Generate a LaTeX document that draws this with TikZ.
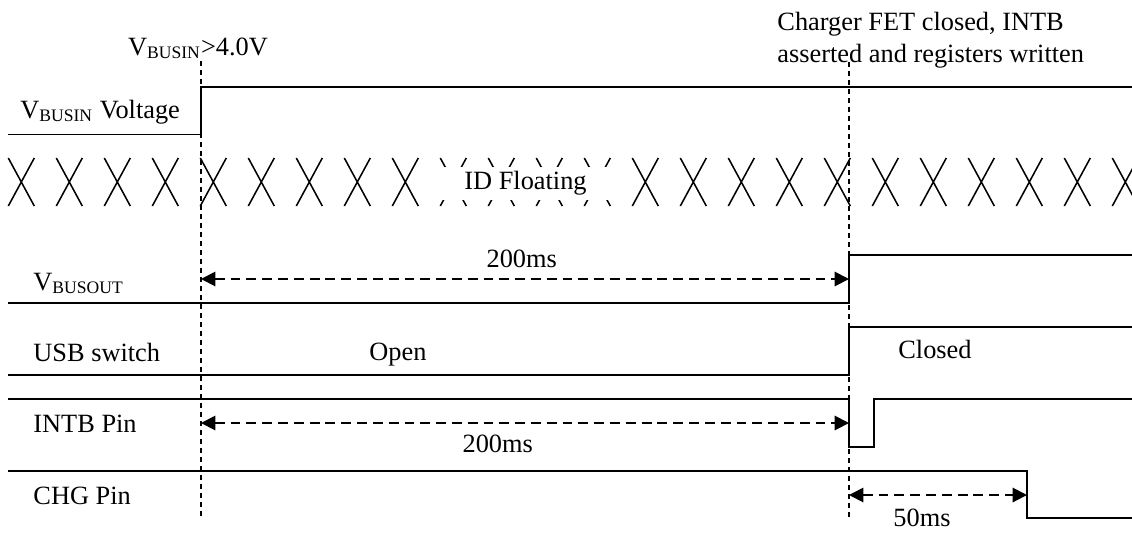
\documentclass[tikz,border=0pt]{standalone}
\usepackage{fontspec}
\setmainfont{Liberation Serif}
\usetikzlibrary{arrows.meta}

\begin{document}
\begin{tikzpicture}[x=0.016cm, y=-0.016cm, >={Triangle[length=6.5pt, width=6.5pt]},
  font=\fontsize{12}{14.5}\selectfont,
  wave/.style={line width=0.9pt},
  xline/.style={line width=0.7pt},
  marker/.style={line width=0.8pt, dash pattern=on 2.3pt off 1.8pt},
  timespan/.style={<->, line width=0.9pt, dash pattern=on 4.5pt off 2.7pt},
  signame/.style={anchor=base west, inner sep=0pt},
  note/.style={anchor=base, inner sep=0pt}]

  \useasboundingbox (0,0) rectangle (1132,533);

  \def\tA{201}   % VBUSIN above threshold
  \def\tB{849}   % charger FET closed
  \def\tC{1027}  % CHG pin asserted
  \def\xend{1132}
  \def\xpitch{48}

  % Event markers
  \coordinate (a top) at (\tA,61);
  \coordinate (a bot) at (\tA,517);
  \coordinate (b top) at (\tB,62);
  \coordinate (b bot) at (\tB,517);
  \draw[marker] (a top) -- (a bot);
  \draw[marker] (b top) -- (b bot);
  \node[note] (vth) at (198,55) {V\textsubscript{BUSIN}>4.0V};
  \node[anchor=north west, align=left, inner sep=0pt] (fetnote) at (777,12)
    {Charger FET closed, INTB\\asserted and registers written};

  % Signal names
  \node[signame] (n busin)  at (20,118) {V\textsubscript{BUSIN} Voltage};
  \node[signame] (n busout) at (33,290) {V\textsubscript{BUSOUT}};
  \node[signame] (n usb)    at (33,361) {USB switch};
  \node[signame] (n intb)   at (33,432) {INTB Pin};
  \node[signame] (n chg)    at (33,504) {CHG Pin};

  % VBUSIN voltage
  \draw[wave] (8,134.5) -- (\tA,134.5) -- (\tA,87) -- (\xend,87);

  % ID pin: unknown state
  \foreach \k in {0,...,23} {
    \draw[xline] ({21.3+\xpitch*\k-13},158) -- ++(26,48)
                 ({21.3+\xpitch*\k+13},158) -- ++(-26,48);
  }
  \node[fill=white, minimum width=2.83cm, minimum height=0.53cm, inner sep=0pt] (idfloat)
    at (525.5,183.5) {ID Floating};

  % VBUSOUT
  \draw[wave] (8,302.7) -- (\tB,302.7) -- (\tB,255) -- (\xend,255);
  \coordinate (busout from) at (\tA,279);
  \coordinate (busout to) at (\tB,279);
  \draw[timespan] (busout from) -- node[note, pos=0.495, yshift=5.4pt] (t busout) {200ms} (busout to);

  % USB switch
  \draw[wave] (8,375) -- (\tB,375) -- (\tB,327) -- (\xend,327);
  \node[note] (open) at (398,360) {Open};
  \node[note] (closed) at (935,358) {Closed};

  % INTB pin
  \draw[wave] (8,399) -- (\tB,399) -- (\tB,447) -- (874,447) -- (874,399) -- (\xend,399);
  \coordinate (intb from) at (\tA,423);
  \coordinate (intb to) at (\tB,423);
  \draw[timespan] (intb from) -- node[note, pos=0.458, yshift=-13.6pt] (t intb) {200ms} (intb to);

  % CHG pin
  \draw[wave] (8,470.7) -- (\tC,470.7) -- (\tC,518) -- (\xend,518);
  \coordinate (chg from) at (\tB,495);
  \coordinate (chg to) at (\tC,495);
  \draw[timespan] (chg from) -- node[note, pos=0.41, yshift=-14.5pt] (t chg) {50ms} (chg to);

\end{tikzpicture}
\end{document}
